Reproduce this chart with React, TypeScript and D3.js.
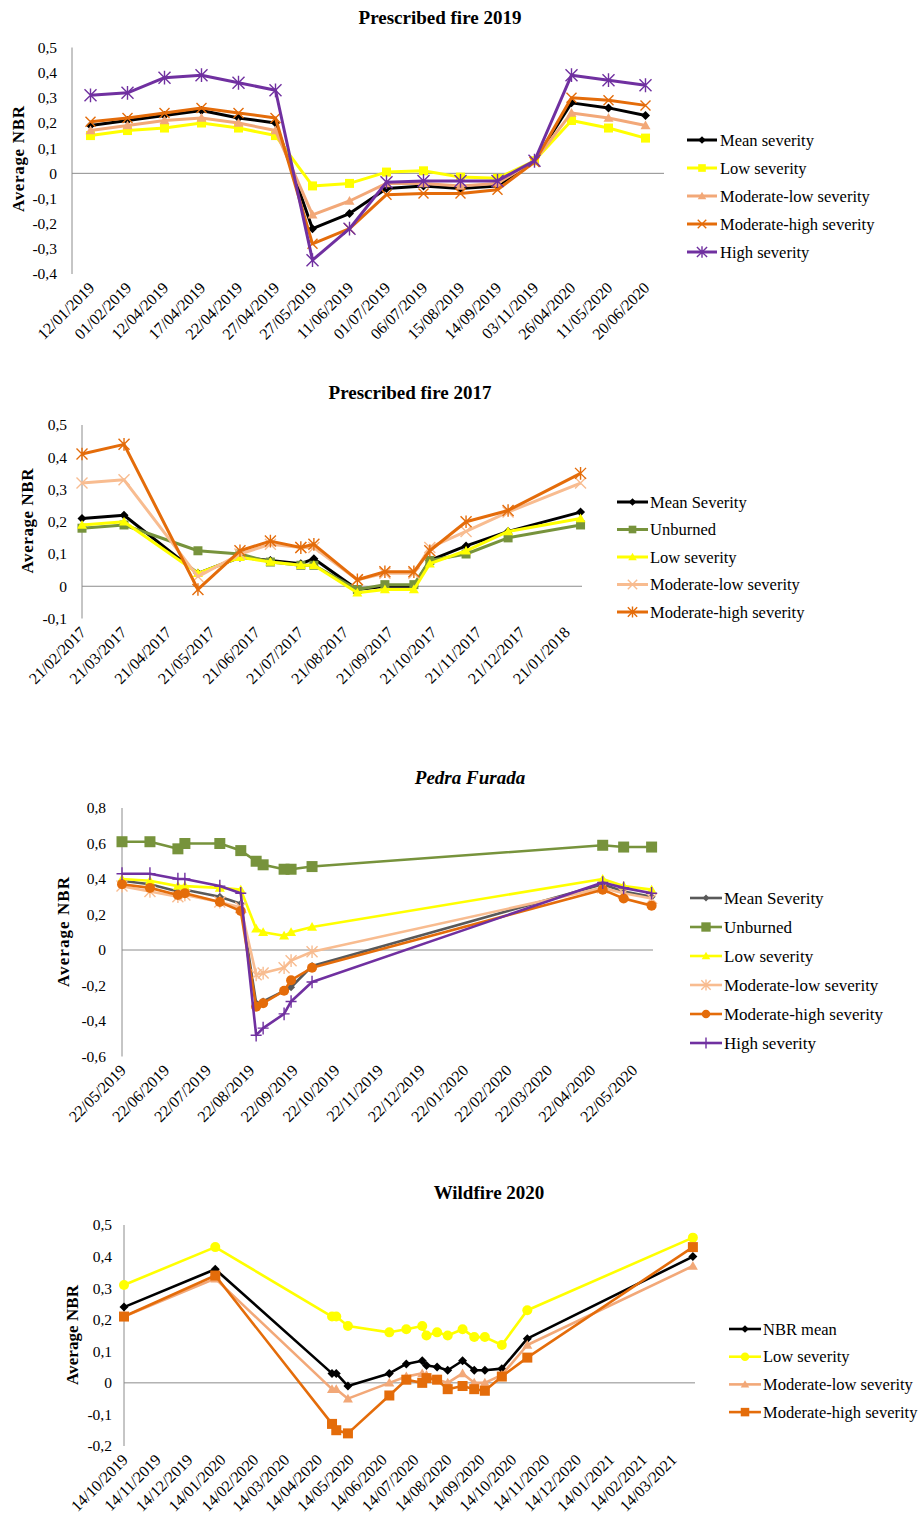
import React from "react";
import * as d3 from "d3";

const SERIF = "'Liberation Serif', 'Times New Roman', Times, serif";

// ---------- Prescribed fire 2019 (acquisition dates as categories) ----------
const pf19Dates = ["12/01/2019", "01/02/2019", "12/04/2019", "17/04/2019", "22/04/2019", "27/04/2019", "27/05/2019", "11/06/2019", "01/07/2019", "06/07/2019", "15/08/2019", "14/09/2019", "03/11/2019", "26/04/2020", "11/05/2020", "20/06/2020"];
const pf19Mean = [0.19, 0.21, 0.23, 0.25, 0.22, 0.2, -0.22, -0.16, -0.06, -0.05, -0.06, -0.05, 0.05, 0.28, 0.26, 0.23];
const pf19Low = [0.15, 0.17, 0.18, 0.2, 0.18, 0.15, -0.05, -0.04, 0.005, 0.01, -0.015, -0.02, 0.05, 0.21, 0.18, 0.14];
const pf19ModLow = [0.17, 0.19, 0.21, 0.22, 0.2, 0.17, -0.165, -0.11, -0.04, -0.04, -0.05, -0.04, 0.05, 0.24, 0.22, 0.19];
const pf19ModHigh = [0.205, 0.22, 0.24, 0.26, 0.24, 0.22, -0.28, -0.22, -0.085, -0.08, -0.08, -0.065, 0.045, 0.3, 0.29, 0.27];
const pf19High = [0.31, 0.32, 0.38, 0.39, 0.36, 0.33, -0.345, -0.22, -0.035, -0.03, -0.03, -0.03, 0.05, 0.39, 0.37, 0.35];

// ---------- Prescribed fire 2017 (date axis) ----------
const pf17Dates = ["21/02/2017", "22/03/2017", "12/05/2017", "10/06/2017", "01/07/2017", "22/07/2017", "31/07/2017", "30/08/2017", "18/09/2017", "08/10/2017", "19/10/2017", "13/11/2017", "12/12/2017", "31/01/2018"];
const pf17Ticks = ["21/02/2017", "21/03/2017", "21/04/2017", "21/05/2017", "21/06/2017", "21/07/2017", "21/08/2017", "21/09/2017", "21/10/2017", "21/11/2017", "21/12/2017", "21/01/2018"];
const pf17Mean = [0.21, 0.22, 0.04, 0.09, 0.08, 0.07, 0.085, -0.01, 0.0, 0.0, 0.08, 0.125, 0.17, 0.23];
const pf17Unburned = [0.18, 0.19, 0.11, 0.1, 0.075, 0.065, 0.065, -0.01, 0.005, 0.005, 0.08, 0.1, 0.15, 0.19];
const pf17Low = [0.19, 0.2, 0.04, 0.09, 0.075, 0.065, 0.065, -0.02, -0.01, -0.01, 0.07, 0.11, 0.17, 0.21];
const pf17ModLow = [0.32, 0.33, 0.03, 0.1, 0.13, 0.12, 0.12, 0.02, 0.04, 0.04, 0.12, 0.17, 0.23, 0.32];
const pf17ModHigh = [0.41, 0.44, -0.01, 0.11, 0.14, 0.12, 0.13, 0.02, 0.045, 0.045, 0.11, 0.2, 0.235, 0.35];

// ---------- Pedra Furada (date axis) ----------
const pfDates = ["22/05/2019", "11/06/2019", "01/07/2019", "06/07/2019", "31/07/2019", "15/08/2019", "26/08/2019", "31/08/2019", "15/09/2019", "20/09/2019", "05/10/2019", "30/04/2020", "15/05/2020", "04/06/2020"];
const pfTicks = ["22/05/2019", "22/06/2019", "22/07/2019", "22/08/2019", "22/09/2019", "22/10/2019", "22/11/2019", "22/12/2019", "22/01/2020", "22/02/2020", "22/03/2020", "22/04/2020", "22/05/2020"];
const pfMean = [0.39, 0.37, 0.33, 0.34, 0.3, 0.26, -0.3, -0.29, -0.23, -0.21, -0.09, 0.37, 0.33, 0.3];
const pfUnburned = [0.61, 0.61, 0.57, 0.6, 0.6, 0.56, 0.5, 0.48, 0.455, 0.455, 0.47, 0.59, 0.58, 0.58];
const pfLow = [0.4, 0.39, 0.36, 0.36, 0.35, 0.34, 0.12, 0.1, 0.08, 0.1, 0.13, 0.4, 0.36, 0.34];
const pfModLow = [0.36, 0.33, 0.3, 0.31, 0.27, 0.24, -0.14, -0.13, -0.1, -0.06, -0.01, 0.35, 0.32, 0.29];
const pfModHigh = [0.37, 0.35, 0.31, 0.32, 0.27, 0.22, -0.32, -0.3, -0.23, -0.17, -0.1, 0.34, 0.29, 0.25];
const pfHigh = [0.43, 0.43, 0.4, 0.4, 0.36, 0.32, -0.48, -0.44, -0.36, -0.29, -0.18, 0.38, 0.35, 0.32];

// ---------- Wildfire 2020 (date axis) ----------
const wfDates = ["14/10/2019", "08/01/2020", "27/04/2020", "01/05/2020", "12/05/2020", "20/06/2020", "06/07/2020", "21/07/2020", "25/07/2020", "04/08/2020", "14/08/2020", "28/08/2020", "08/09/2020", "18/09/2020", "04/10/2020", "28/10/2020", "02/04/2021"];
const wfTicks = ["14/10/2019", "14/11/2019", "14/12/2019", "14/01/2020", "14/02/2020", "14/03/2020", "14/04/2020", "14/05/2020", "14/06/2020", "14/07/2020", "14/08/2020", "14/09/2020", "14/10/2020", "14/11/2020", "14/12/2020", "14/01/2021", "14/02/2021", "14/03/2021"];
const wfMean = [0.24, 0.36, 0.03, 0.03, -0.01, 0.03, 0.06, 0.07, 0.055, 0.05, 0.04, 0.07, 0.04, 0.04, 0.045, 0.14, 0.4];
const wfLow = [0.31, 0.43, 0.21, 0.21, 0.18, 0.16, 0.17, 0.18, 0.15, 0.16, 0.15, 0.17, 0.145, 0.145, 0.12, 0.23, 0.46];
const wfModLow = [0.21, 0.33, -0.02, -0.02, -0.05, 0.0, 0.02, 0.03, 0.025, 0.01, 0.0, 0.03, 0.0, 0.0, 0.025, 0.12, 0.37];
const wfModHigh = [0.21, 0.34, -0.13, -0.15, -0.16, -0.04, 0.01, 0.0, 0.015, 0.01, -0.02, -0.01, -0.02, -0.025, 0.02, 0.08, 0.43];

// ---------- colours ----------
const BLACK = "#000000";
const GREY = "#595959";
const YELLOW = "#FFFF00";
const PEACH = "#F2A878";
const PEACH_LIGHT = "#F8BC90";
const ORANGE = "#E46C0A";
const PURPLE = "#7030A0";
const GREEN = "#77933C";
const AXIS = "#8C8C8C";

const parseDate = d3.timeParse("%d/%m/%Y");
const locale = d3.formatLocale({ decimal: ",", thousands: ".", grouping: [3], currency: ["", ""], minus: "-" });
const fmt1 = locale.format(".1f");
const tickText = (v: number) => (Math.abs(v) < 1e-9 ? "0" : fmt1(v));

type MarkerKind = "diamond" | "square" | "triangle" | "circle" | "x" | "asterisk" | "plus";

interface SeriesDef {
  name: string;
  values: number[];
  color: string;
  marker: MarkerKind;
  size: number;
}

function Marker({ kind, x, y, size, color }: { kind: MarkerKind; x: number; y: number; size: number; color: string }) {
  const h = size / 2;
  if (kind === "x" || kind === "asterisk" || kind === "plus") {
    let d = "";
    if (kind !== "plus") d += `M${x - h},${y - h}L${x + h},${y + h}M${x - h},${y + h}L${x + h},${y - h}`;
    if (kind !== "x") d += `M${x},${y - h * 1.15}L${x},${y + h * 1.15}`;
    if (kind === "plus") d += `M${x - h},${y}L${x + h},${y}`;
    return <path d={d} stroke={color} strokeWidth={1.4} fill="none" />;
  }
  if (kind === "square") return <rect x={x - h} y={y - h} width={size} height={size} fill={color} />;
  if (kind === "circle") return <circle cx={x} cy={y} r={h} fill={color} />;
  if (kind === "diamond") return <path d={`M${x},${y - h}L${x + h},${y}L${x},${y + h}L${x - h},${y}Z`} fill={color} />;
  return <path d={`M${x},${y - h}L${x + h},${y + h * 0.75}L${x - h},${y + h * 0.75}Z`} fill={color} />;
}

interface LegendDef {
  x1: number;
  x2: number;
  tx: number;
  y0: number;
  dy: number;
  fontSize: number;
}

interface PanelProps {
  title: string;
  titleX: number;
  titleY: number;
  italic?: boolean;
  xs: number[];
  xTicks: { x: number; label: string }[];
  y: d3.ScaleLinear<number, number>;
  yTickCount: number;
  axisX: number;
  axisEnd: number;
  yLabelRight: number;
  yTitleX: number;
  yTitleY: number;
  yTitleLen: number;
  series: SeriesDef[];
  lineWidth: number;
  legend: LegendDef;
}

function Panel(p: PanelProps) {
  const { y } = p;
  const [yMin, yMax] = y.domain();
  const ticks = y.ticks(p.yTickCount);
  const line = d3
    .line<number>()
    .x((_, i) => p.xs[i])
    .y((v) => y(v));
  const yBottom = y(yMin);
  return (
    <g fontFamily={SERIF} fill="#000">
      <text
        x={p.titleX}
        y={p.titleY}
        textAnchor="middle"
        dominantBaseline="central"
        fontWeight="bold"
        fontStyle={p.italic ? "italic" : "normal"}
        fontSize={19}
      >
        {p.title}
      </text>
      <text
        transform={`translate(${p.yTitleX},${p.yTitleY}) rotate(-90)`}
        textAnchor="middle"
        dominantBaseline="central"
        fontWeight="bold"
        fontSize={17}
        textLength={p.yTitleLen}
        lengthAdjust="spacing"
      >
        Average NBR
      </text>
      {ticks.map((t) => (
        <text key={`yt${t}`} x={p.yLabelRight} y={y(t)} dy="0.35em" textAnchor="end" fontSize={15.5}>
          {tickText(t)}
        </text>
      ))}
      <line x1={p.axisX} x2={p.axisX} y1={y(yMax)} y2={yBottom} stroke={AXIS} strokeWidth={1} />
      <line x1={p.axisX} x2={p.axisEnd} y1={y(0)} y2={y(0)} stroke={AXIS} strokeWidth={1} />
      {p.xTicks.map((t, i) => (
        <text
          key={`xt${i}`}
          transform={`translate(${t.x + 1},${yBottom + 11}) rotate(-45)`}
          textAnchor="end"
          dy="0.35em"
          fontSize={16}
        >
          {t.label}
        </text>
      ))}
      {p.series.map((s) => (
        <g key={s.name}>
          <path d={line(s.values) || ""} fill="none" stroke={s.color} strokeWidth={p.lineWidth} strokeLinejoin="round" />
          {s.values.map((v, i) => (
            <Marker key={i} kind={s.marker} x={p.xs[i]} y={y(v)} size={s.size} color={s.color} />
          ))}
        </g>
      ))}
      {p.series.map((s, i) => {
        const ly = p.legend.y0 + i * p.legend.dy;
        return (
          <g key={`lg${s.name}`}>
            <line x1={p.legend.x1} x2={p.legend.x2} y1={ly} y2={ly} stroke={s.color} strokeWidth={p.lineWidth} />
            <Marker kind={s.marker} x={(p.legend.x1 + p.legend.x2) / 2} y={ly} size={s.size * 0.85} color={s.color} />
            <text x={p.legend.tx} y={ly} dy="0.35em" fontSize={p.legend.fontSize}>
              {s.name}
            </text>
          </g>
        );
      })}
    </g>
  );
}

export default function App() {
  // Panel 1: categorical axis
  const x1 = d3.scaleBand<string>().domain(pf19Dates).range([72, 664]).padding(0);
  const xs1 = pf19Dates.map((d) => (x1(d) as number) + x1.bandwidth() / 2);
  const y1 = d3.scaleLinear().domain([-0.4, 0.5]).range([274, 47.5]);

  // Panel 2: time axis
  const x2 = d3.scaleTime().domain([parseDate("21/02/2017") as Date, parseDate("01/02/2018") as Date]).range([82, 582]);
  const xs2 = pf17Dates.map((d) => x2(parseDate(d) as Date));
  const y2 = d3.scaleLinear().domain([-0.1, 0.5]).range([618.5, 425]);

  // Panel 3: time axis
  const x3 = d3.scaleTime().domain([parseDate("22/05/2019") as Date, parseDate("05/06/2020") as Date]).range([122, 653]);
  const xs3 = pfDates.map((d) => x3(parseDate(d) as Date));
  const y3 = d3.scaleLinear().domain([-0.6, 0.8]).range([1056.5, 808]);

  // Panel 4: time axis
  const x4 = d3.scaleTime().domain([parseDate("14/10/2019") as Date, parseDate("04/04/2021") as Date]).range([124, 695]);
  const xs4 = wfDates.map((d) => x4(parseDate(d) as Date));
  const y4 = d3.scaleLinear().domain([-0.2, 0.5]).range([1446, 1225]);

  return (
    <div style={{ position: "absolute", left: 0, top: 0 }}>
      <svg width={924} height={1527} viewBox="0 0 924 1527" style={{ display: "block", background: "#fff" }}>
        <rect width={924} height={1527} fill="#fff" />
        <Panel
          title="Prescribed fire 2019"
          titleX={440}
          titleY={17}
          xs={xs1}
          xTicks={pf19Dates.map((d, i) => ({ x: xs1[i], label: d }))}
          y={y1}
          yTickCount={9}
          axisX={72}
          axisEnd={664}
          yLabelRight={57}
          yTitleX={18}
          yTitleY={159}
          yTitleLen={106}
          lineWidth={3}
          series={[
            { name: "Mean severity", values: pf19Mean, color: BLACK, marker: "diamond", size: 9 },
            { name: "Low severity", values: pf19Low, color: YELLOW, marker: "square", size: 9 },
            { name: "Moderate-low severity", values: pf19ModLow, color: PEACH, marker: "triangle", size: 10 },
            { name: "Moderate-high severity", values: pf19ModHigh, color: ORANGE, marker: "x", size: 10 },
            { name: "High severity", values: pf19High, color: PURPLE, marker: "asterisk", size: 12 },
          ]}
          legend={{ x1: 687, x2: 717, tx: 720, y0: 140, dy: 28, fontSize: 16.5 }}
        />
        <Panel
          title="Prescribed fire 2017"
          titleX={410}
          titleY={392}
          xs={xs2}
          xTicks={pf17Ticks.map((d) => ({ x: x2(parseDate(d) as Date), label: d }))}
          y={y2}
          yTickCount={6}
          axisX={82}
          axisEnd={582}
          yLabelRight={67}
          yTitleX={27}
          yTitleY={521}
          yTitleLen={105}
          lineWidth={3}
          series={[
            { name: "Mean Severity", values: pf17Mean, color: BLACK, marker: "diamond", size: 9 },
            { name: "Unburned", values: pf17Unburned, color: GREEN, marker: "square", size: 9 },
            { name: "Low severity", values: pf17Low, color: YELLOW, marker: "triangle", size: 10 },
            { name: "Moderate-low severity", values: pf17ModLow, color: PEACH_LIGHT, marker: "x", size: 11 },
            { name: "Moderate-high severity", values: pf17ModHigh, color: ORANGE, marker: "asterisk", size: 11 },
          ]}
          legend={{ x1: 617, x2: 648, tx: 650, y0: 502, dy: 27.5, fontSize: 16.5 }}
        />
        <Panel
          title="Pedra Furada"
          titleX={470}
          titleY={777}
          italic
          xs={xs3}
          xTicks={pfTicks.map((d) => ({ x: x3(parseDate(d) as Date), label: d }))}
          y={y3}
          yTickCount={7}
          axisX={122}
          axisEnd={653}
          yLabelRight={106}
          yTitleX={63}
          yTitleY={932}
          yTitleLen={110}
          lineWidth={2.6}
          series={[
            { name: "Mean Severity", values: pfMean, color: GREY, marker: "diamond", size: 8 },
            { name: "Unburned", values: pfUnburned, color: GREEN, marker: "square", size: 11 },
            { name: "Low severity", values: pfLow, color: YELLOW, marker: "triangle", size: 10 },
            { name: "Moderate-low severity", values: pfModLow, color: PEACH_LIGHT, marker: "asterisk", size: 11 },
            { name: "Moderate-high severity", values: pfModHigh, color: ORANGE, marker: "circle", size: 10 },
            { name: "High severity", values: pfHigh, color: PURPLE, marker: "plus", size: 11 },
          ]}
          legend={{ x1: 690, x2: 722, tx: 724, y0: 898, dy: 29, fontSize: 17 }}
        />
        <Panel
          title="Wildfire 2020"
          titleX={489}
          titleY={1192}
          xs={xs4}
          xTicks={wfTicks.map((d) => ({ x: x4(parseDate(d) as Date), label: d }))}
          y={y4}
          yTickCount={7}
          axisX={124}
          axisEnd={695}
          yLabelRight={112}
          yTitleX={72}
          yTitleY={1335}
          yTitleLen={100}
          lineWidth={2.6}
          series={[
            { name: "NBR mean", values: wfMean, color: BLACK, marker: "diamond", size: 9 },
            { name: "Low severity", values: wfLow, color: YELLOW, marker: "circle", size: 10 },
            { name: "Moderate-low severity", values: wfModLow, color: PEACH, marker: "triangle", size: 10 },
            { name: "Moderate-high severity", values: wfModHigh, color: ORANGE, marker: "square", size: 10 },
          ]}
          legend={{ x1: 729, x2: 761, tx: 763, y0: 1329, dy: 27.7, fontSize: 16.5 }}
        />
      </svg>
    </div>
  );
}
